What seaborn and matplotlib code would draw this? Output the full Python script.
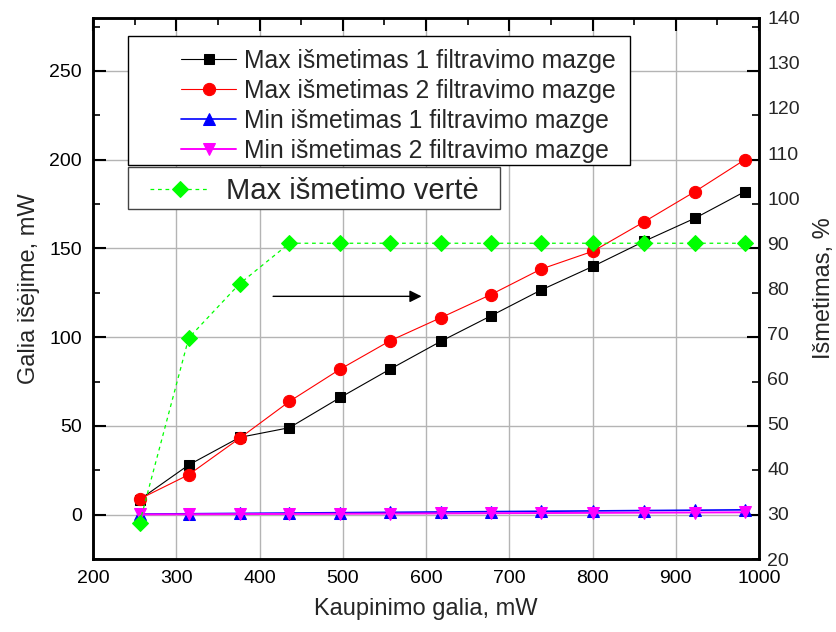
import matplotlib
matplotlib.use("Agg")
import matplotlib.pyplot as plt
import seaborn as sns
from matplotlib.patches import Rectangle
from matplotlib.ticker import MultipleLocator

# Pump power (mW)
pump = [256, 315, 376, 436, 497, 557, 618, 678, 738, 801, 862, 923, 983]
# Output power (mW)
max_1 = [8.5, 28, 43.5, 49, 66, 82, 97.7, 112, 126.5, 140, 154, 167, 182]
max_2 = [8.8, 22.5, 43, 63.8, 82, 98, 111, 124, 138.3, 148.5, 165, 182, 200]
min_1 = [0.3, 0.5, 0.7, 0.9, 1.1, 1.3, 1.5, 1.7, 1.9, 2.1, 2.3, 2.5, 2.7]
min_2 = [0.1, 0.2, 0.3, 0.4, 0.5, 0.6, 0.7, 0.8, 0.9, 1.0, 1.1, 1.2, 1.3]
# Maximum extinction (%)
max_ext = [28, 69, 81, 90, 90, 90, 90, 90, 90, 90, 90, 90, 90]

labels = ["Max išmetimas 1 filtravimo mazge",
          "Max išmetimas 2 filtravimo mazge",
          "Min išmetimas 1 filtravimo mazge",
          "Min išmetimas 2 filtravimo mazge"]
ext_label = "Max išmetimo vertė"

sns.set_theme(style="white")
plt.rcParams["font.family"] = ["Liberation Sans", "DejaVu Sans"]

W, H = 836, 632
fig = plt.figure(figsize=(W / 100, H / 100), dpi=100)
ax = fig.add_axes([93 / W, 1 - 559 / H, (759 - 93) / W, (559 - 17.7) / H])
ax2 = ax.twinx()

series = [
    (max_1, "black", "s", 7.5, 0.8),
    (max_2, "red", "o", 8.8, 0.8),
    (min_1, "blue", "^", 8.5, 1.2),
    (min_2, "magenta", "v", 8.5, 1.4),
]
handles = []
for (vals, col, mk, ms, lw), lab in zip(series, labels):
    sns.lineplot(x=pump, y=vals, ax=ax, color=col, marker=mk, markersize=ms,
                 markeredgecolor=col, markerfacecolor=col, linewidth=lw,
                 sort=False, estimator=None, label=lab, legend=False)
    handles.append(ax.lines[-1])

sns.lineplot(x=pump, y=max_ext, ax=ax2, color="#00ff00", marker="D", markersize=8,
             markeredgecolor="#00ff00", markerfacecolor="#00ff00", linewidth=0.9,
             linestyle=(0, (3, 3)), sort=False, estimator=None, label=ext_label,
             legend=False)
ext_handle = ax2.lines[-1]

ax.set_xlim(200, 1000)
ax.set_ylim(-25, 280)
ax2.set_ylim(20, 140)

ax.xaxis.set_major_locator(MultipleLocator(100))
ax.xaxis.set_minor_locator(MultipleLocator(50))
ax.yaxis.set_major_locator(MultipleLocator(50))
ax.yaxis.set_minor_locator(MultipleLocator(25))
ax2.yaxis.set_major_locator(MultipleLocator(10))
ax.set_yticks([0, 50, 100, 150, 200, 250])

ax.grid(True, which="major", color="#b4b4b4", linewidth=1.0)
ax.set_axisbelow(True)

ax.tick_params(which="both", direction="in", top=True, right=True,
               labelsize=14, colors="black", pad=8)
ax.tick_params(which="major", length=9, width=1.5)
ax.tick_params(which="minor", length=5, width=1.2)
ax2.tick_params(axis="y", which="both", length=0, labelsize=14, pad=6)

for a in (ax, ax2):
    for sp in a.spines.values():
        sp.set_linewidth(1.8)
        sp.set_color("black")

ax.set_xlabel("Kaupinimo galia, mW", fontsize=17, labelpad=8)
ax.set_ylabel("Galia išėjime, mW", fontsize=17, labelpad=7)
ax2.set_ylabel("Išmetimas, %", fontsize=17, labelpad=9)

ax.annotate("", xy=(598, 123), xytext=(413, 123),
            arrowprops=dict(arrowstyle="-|>", color="black", lw=1.0,
                            mutation_scale=18))

# Legend frames drawn as plain boxes, legends placed inside them
fig.add_artist(Rectangle((128 / W, 1 - 165 / H), (630 - 128) / W, (165 - 36) / H,
                         transform=fig.transFigure, facecolor="white",
                         edgecolor="black", linewidth=1.0, zorder=3))
fig.add_artist(Rectangle((128 / W, 1 - 209 / H), (500 - 128) / W, (209 - 167) / H,
                         transform=fig.transFigure, facecolor="white",
                         edgecolor="#444444", linewidth=1.0, zorder=3))

fig.legend(handles, labels, loc="center left",
           bbox_to_anchor=(181 / W, 1 - 106 / H), bbox_transform=fig.transFigure,
           fontsize=17.8, frameon=False, handlelength=2.23, handletextpad=0.32,
           labelspacing=0.24, borderpad=0, borderaxespad=0).set_zorder(6)

fig.legend([ext_handle], [ext_label], loc="center left",
           bbox_to_anchor=(150 / W, 1 - 191 / H), bbox_transform=fig.transFigure,
           fontsize=21, frameon=False, handlelength=2.05, handletextpad=0.55,
           borderpad=0, borderaxespad=0).set_zorder(6)

fig.savefig("out.png", dpi=100)
